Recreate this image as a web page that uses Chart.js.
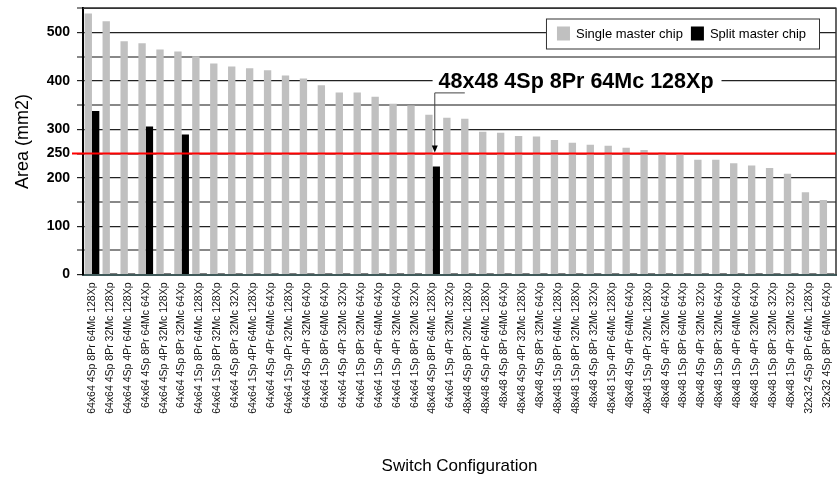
<!DOCTYPE html>
<html>
<head>
<meta charset="utf-8">
<script src="https://cdn.jsdelivr.net/npm/chart.js@4.4.1/dist/chart.umd.min.js"></script>
<style>
  html, body { margin: 0; padding: 0; background: #fff; }
  #wrap { width: 838px; height: 485px; }
</style>
</head>
<body>
<div id="wrap"><canvas id="grafico" width="838" height="485"></canvas></div>
<script>
const categorias = [
  '64x64 4Sp 8Pr 64Mc 128Xp', '64x64 4Sp 8Pr 32Mc 128Xp', '64x64 4Sp 4Pr 64Mc 128Xp',
  '64x64 4Sp 8Pr 64Mc 64Xp', '64x64 4Sp 4Pr 32Mc 128Xp', '64x64 4Sp 8Pr 32Mc 64Xp',
  '64x64 1Sp 8Pr 64Mc 128Xp', '64x64 1Sp 8Pr 32Mc 128Xp', '64x64 4Sp 8Pr 32Mc 32Xp',
  '64x64 1Sp 4Pr 64Mc 128Xp', '64x64 4Sp 4Pr 64Mc 64Xp', '64x64 1Sp 4Pr 32Mc 128Xp',
  '64x64 4Sp 4Pr 32Mc 64Xp', '64x64 1Sp 8Pr 64Mc 64Xp', '64x64 4Sp 4Pr 32Mc 32Xp',
  '64x64 1Sp 8Pr 32Mc 64Xp', '64x64 1Sp 4Pr 64Mc 64Xp', '64x64 1Sp 4Pr 32Mc 64Xp',
  '64x64 1Sp 8Pr 32Mc 32Xp', '48x48 4Sp 8Pr 64Mc 128Xp', '64x64 1Sp 4Pr 32Mc 32Xp',
  '48x48 4Sp 8Pr 32Mc 128Xp', '48x48 4Sp 4Pr 64Mc 128Xp', '48x48 4Sp 8Pr 64Mc 64Xp',
  '48x48 4Sp 4Pr 32Mc 128Xp', '48x48 4Sp 8Pr 32Mc 64Xp', '48x48 1Sp 8Pr 64Mc 128Xp',
  '48x48 1Sp 8Pr 32Mc 128Xp', '48x48 4Sp 8Pr 32Mc 32Xp', '48x48 1Sp 4Pr 64Mc 128Xp',
  '48x48 4Sp 4Pr 64Mc 64Xp', '48x48 1Sp 4Pr 32Mc 128Xp', '48x48 4Sp 4Pr 32Mc 64Xp',
  '48x48 1Sp 8Pr 64Mc 64Xp', '48x48 4Sp 4Pr 32Mc 32Xp', '48x48 1Sp 8Pr 32Mc 64Xp',
  '48x48 1Sp 4Pr 64Mc 64Xp', '48x48 1Sp 4Pr 32Mc 64Xp', '48x48 1Sp 8Pr 32Mc 32Xp',
  '48x48 1Sp 4Pr 32Mc 32Xp', '32x32 4Sp 8Pr 64Mc 128Xp', '32x32 4Sp 8Pr 64Mc 64Xp'
];

const singleMaster = [
  539, 523, 482, 478, 465, 461, 451, 436, 430, 426, 422, 411, 405, 391,
  376, 376, 367, 353, 349, 330, 324, 322, 295, 293, 286, 285, 278, 272,
  268, 266, 262, 257, 252, 249, 237, 237, 230, 225, 220, 208, 170, 154
];

const splitMaster = [
  338, 2, 2, 306, 2, 289, 2, 2, 2, 2, 2, 2, 2, 2,
  2, 2, 2, 2, 2, 223, 2, 2, 2, 2, 2, 2, 2, 2,
  2, 2, 2, 2, 2, 2, 2, 2, 2, 2, 2, 2, 2, 2
];

const yTickLabels = [0, 100, 200, 250, 300, 400, 500];
const limite = 250;
const destaque = 19; // 48x48 4Sp 8Pr 64Mc 128Xp
const destaqueTexto = '48x48 4Sp 8Pr 64Mc 128Xp';
const destaqueNivel = 400;

const fonte = '"Liberation Sans", Arial, sans-serif';
Chart.defaults.font.family = fonte;
Chart.defaults.color = '#000';

// linha vermelha, anotação, legenda e moldura
const extras = {
  id: 'extras',
  afterDatasetsDraw(chart) {
    const ctx = chart.ctx;
    const { left, right, top, bottom } = chart.chartArea;
    const x = chart.scales.x;
    const y = chart.scales.y;

    // moldura superior e direita
    ctx.save();
    ctx.strokeStyle = '#333';
    ctx.lineWidth = 1.5;
    ctx.beginPath();
    ctx.moveTo(left, top);
    ctx.lineTo(right, top);
    ctx.lineTo(right, bottom);
    ctx.stroke();

    // linha do limite
    const yl = y.getPixelForValue(limite);
    ctx.strokeStyle = '#ff0000';
    ctx.lineWidth = 2;
    ctx.beginPath();
    ctx.moveTo(left - 11, yl);
    ctx.lineTo(right, yl);
    ctx.stroke();

    // anotação
    const ya = y.getPixelForValue(destaqueNivel);
    const xa = x.getPixelForValue(destaque);
    ctx.font = 'bold 21.5px ' + fonte;
    const tw = ctx.measureText(destaqueTexto).width;
    ctx.fillStyle = '#fff';
    ctx.fillRect(xa, ya - 12, tw + 14, 24);
    ctx.fillStyle = '#000';
    ctx.textBaseline = 'middle';
    ctx.textAlign = 'left';
    ctx.fillText(destaqueTexto, xa + 6, ya + 1);

    const barra = chart.getDatasetMeta(1).data[destaque];
    const xb = barra.x - 1.5;
    ctx.strokeStyle = '#444';
    ctx.lineWidth = 1;
    ctx.beginPath();
    ctx.moveTo(xb + 30, ya + 12);
    ctx.lineTo(xb, ya + 12);
    ctx.lineTo(xb, yl - 6);
    ctx.stroke();
    ctx.fillStyle = '#000';
    ctx.beginPath();
    ctx.moveTo(xb - 3, yl - 8);
    ctx.lineTo(xb + 3, yl - 8);
    ctx.lineTo(xb, yl - 1);
    ctx.closePath();
    ctx.fill();

    // legenda
    ctx.font = '13px ' + fonte;
    const ds = chart.data.datasets;
    const w0 = ctx.measureText(ds[0].label).width;
    const w1 = ctx.measureText(ds[1].label).width;
    const lw = 11 + 13 + 6 + w0 + 8 + 13 + 6 + w1 + 13;
    const lr = right - 17;
    const ll = lr - lw;
    const lt = y.getPixelForValue(500) - 14;
    const lh = 30;
    ctx.fillStyle = '#fff';
    ctx.fillRect(ll, lt, lw, lh);
    ctx.strokeStyle = '#333';
    ctx.lineWidth = 1;
    ctx.strokeRect(ll + 0.5, lt + 0.5, lw, lh);
    let cx = ll + 11;
    const cy = lt + lh / 2;
    ctx.fillStyle = ds[0].backgroundColor;
    ctx.fillRect(cx, cy - 7, 13, 14);
    cx += 19;
    ctx.fillStyle = '#000';
    ctx.fillText(ds[0].label, cx, cy + 1);
    cx += w0 + 8;
    ctx.fillStyle = ds[1].backgroundColor;
    ctx.fillRect(cx, cy - 7, 13, 14);
    cx += 19;
    ctx.fillStyle = '#000';
    ctx.fillText(ds[1].label, cx, cy + 1);
    ctx.restore();
  }
};

const grafico = document.getElementById('grafico').getContext('2d');

const myChart = new Chart(grafico, {
  type: 'bar',
  data: {
    labels: categorias,
    datasets: [{
      label: 'Single master chip',
      data: singleMaster,
      backgroundColor: '#c0c0c0',
      categoryPercentage: 0.82,
      barPercentage: 1.0
    }, {
      label: 'Split master chip',
      data: splitMaster,
      backgroundColor: '#000000',
      categoryPercentage: 0.82,
      barPercentage: 1.0
    }]
  },
  options: {
    responsive: false,
    animation: false,
    devicePixelRatio: 1,
    layout: { padding: { top: 0, right: 0, left: 0, bottom: 0 } },
    plugins: {
      legend: { display: false },
      tooltip: { enabled: false }
    },
    scales: {
      x: {
        grid: { display: false, drawTicks: false },
        border: { color: '#405a5a', width: 2 },
        ticks: {
          autoSkip: false,
          minRotation: 90,
          maxRotation: 90,
          padding: 8,
          color: '#111',
          font: { size: 10.5 }
        },
        title: {
          display: true,
          text: 'Switch Configuration',
          font: { size: 17 },
          padding: { top: 0, bottom: 8 }
        },
        afterFit(scale) {
          scale.height = 210.5;
          scale.paddingLeft = 0;
          scale.paddingRight = 2;
        }
      },
      y: {
        min: 0,
        max: 550,
        ticks: {
          stepSize: 50,
          padding: 7,
          color: '#000',
          font: { size: 14, weight: 'bold' },
          callback: (v) => yTickLabels.includes(v) ? v : ''
        },
        grid: {
          tickLength: 6,
          color: (c) => c.tick && c.tick.value % 100 === 0 ? '#222' : '#888',
          lineWidth: (c) => c.tick && c.tick.value % 100 === 0 ? 1.2 : 2
        },
        border: { color: '#000', width: 2 },
        title: {
          display: true,
          text: 'Area (mm2)',
          font: { size: 18 },
          padding: { top: 12, bottom: 0 }
        },
        afterFit(scale) {
          scale.width = 83;
          scale.paddingTop = 8.3;
          scale.paddingBottom = 0;
        }
      }
    }
  },
  plugins: [extras]
});
</script>
</body>
</html>
